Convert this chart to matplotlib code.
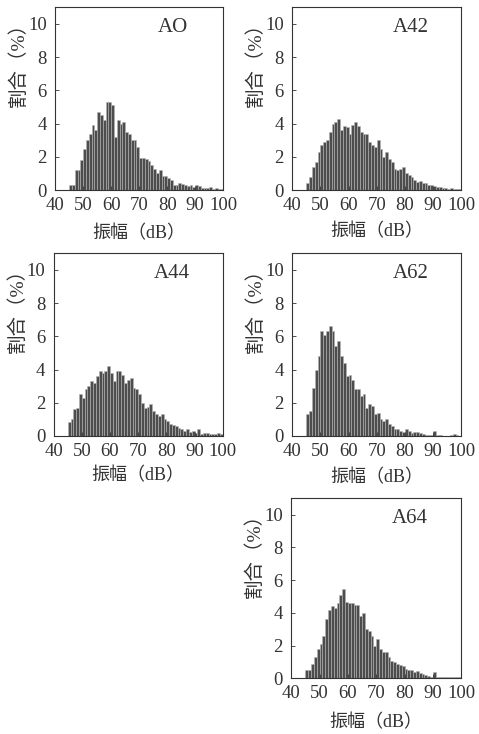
import numpy as np
import matplotlib
matplotlib.use("Agg")
import matplotlib.pyplot as plt

plt.rcParams['font.family'] = ['Liberation Serif', 'Noto Sans CJK SC']

# amplitude bins (dB), 1 dB wide, left edges
amp = np.arange(45, 100)

ao = [0.3, 0.3, 1.2, 1.2, 1.8, 2.5, 3.0, 3.4, 3.9, 3.6,
      4.7, 4.5, 4.2, 5.3, 5.3, 5.1, 3.2, 4.2, 4.0, 4.1,
      3.5, 3.4, 3.0, 3.0, 2.6, 1.95, 1.95, 1.9, 1.75, 1.5,
      1.25, 1.0, 1.2, 0.85, 0.85, 0.75, 0.6, 0.3, 0.3, 0.4,
      0.35, 0.3, 0.25, 0.3, 0.2, 0.3, 0.25, 0.1, 0.1, 0.15,
      0.2, 0.05, 0.1, 0.05, 0.05]
a42 = [0.45, 0.8, 1.4, 1.7, 2.3, 2.7, 2.9, 3.0, 3.5, 4.0,
       4.1, 4.25, 3.6, 3.85, 3.8, 3.4, 3.9, 4.1, 3.85, 3.5,
       3.4, 3.4, 2.9, 2.7, 2.6, 3.0, 2.5, 2.0, 2.3, 1.9,
       1.7, 1.3, 1.2, 1.3, 1.4, 1.0, 0.9, 0.8, 0.6, 0.5,
       0.55, 0.45, 0.4, 0.3, 0.3, 0.25, 0.2, 0.2, 0.15, 0.1,
       0.05, 0.1, 0.05, 0.05, 0.05]
a44 = [0.85, 1.0, 1.6, 1.7, 2.5, 2.3, 2.8, 3.0, 3.3, 3.2,
       3.6, 3.9, 3.8, 3.9, 4.2, 3.8, 3.3, 3.9, 3.9, 3.7,
       3.2, 3.4, 3.5, 2.9, 2.8, 2.5, 2.0, 1.7, 1.75, 1.9,
       1.5, 1.3, 1.2, 1.3, 1.0, 0.9, 0.7, 0.65, 0.6, 0.5,
       0.45, 0.3, 0.4, 0.25, 0.3, 0.2, 0.4, 0.15, 0.2, 0.2,
       0.15, 0.1, 0.1, 0.2, 0.15]
a62 = [1.3, 1.5, 2.9, 4.0, 4.8, 6.3, 6.1, 6.3, 6.6, 6.3,
       5.4, 5.7, 4.8, 4.4, 3.6, 3.7, 3.4, 2.8, 2.8, 2.4,
       2.5, 1.7, 1.95, 1.8, 1.3, 1.4, 1.0, 0.9, 1.0, 0.7,
       0.6, 0.4, 0.45, 0.3, 0.25, 0.4, 0.3, 0.2, 0.25, 0.25,
       0.2, 0.1, 0.05, 0.05, 0.05, 0.3, 0.05, 0.05, 0.02, 0.02,
       0.02, 0.05, 0.1, 0.05, 0.02]
a64 = [0.5, 0.5, 0.9, 1.3, 1.8, 2.1, 2.6, 3.6, 4.2, 4.4,
       4.3, 4.6, 5.1, 5.45, 4.65, 4.6, 4.6, 4.5, 4.5, 3.8,
       4.0, 3.0, 2.9, 2.6, 2.0, 2.4, 1.8, 1.6, 1.6, 1.3,
       1.05, 1.0, 0.85, 0.8, 0.75, 0.55, 0.5, 0.5, 0.35, 0.45,
       0.3, 0.25, 0.2, 0.15, 0.1, 0.35, 0.05, 0.05, 0.1, 0.1,
       0.05, 0.05, 0.05, 0.05, 0.05]

names = ["AO", "A42", "A44", "A62", "A64"]
series = [ao, a42, a44, a62, a64]
xticks = [40, 50, 60, 70, 80, 90, 100]
yticks = [0, 2, 4, 6, 8, 10]

# axes boxes in figure fraction [left, bottom, width, height]
boxes = [[0.115, 0.741, 0.351, 0.249],
         [0.610, 0.741, 0.353, 0.249],
         [0.112, 0.406, 0.353, 0.249],
         [0.610, 0.406, 0.353, 0.249],
         [0.608, 0.076, 0.355, 0.245]]
# x-label top offset below each axes (axes fraction)
xlab_y = [-0.19, -0.18, -0.17, -0.18, -0.20]

fig = plt.figure(figsize=(4.79, 7.34), dpi=100)
ink = "#333333"

for name, vals, box, ly in zip(names, series, boxes, xlab_y):
    ax = fig.add_axes(box)
    ax.bar(amp, vals, width=1.0, align="edge", color="#4d4d4d",
           edgecolor="#b5b5b5", linewidth=0.4)
    ax.set_xlim(40, 100)
    ax.set_ylim(0, 11)
    ax.set_xticks(xticks)
    ax.set_yticks(yticks)
    ax.tick_params(direction="in", length=3, width=0.6, labelsize=13.5,
                   colors=ink)
    ax.tick_params(axis="x", pad=5)
    ax.tick_params(axis="y", pad=6)
    for s in ax.spines.values():
        s.set_color(ink)
        s.set_linewidth(0.8)
    ax.set_ylabel("割合（%）", fontsize=14, color=ink)
    ax.yaxis.set_label_coords(-0.16, 0.71)
    ax.set_xlabel("振幅（dB）", fontsize=13, color=ink)
    ax.xaxis.set_label_coords(0.5, ly)
    ax.text(0.70, 9.8, name, transform=ax.get_yaxis_transform(),
            ha="center", va="center", fontsize=15, color=ink)

fig.savefig("out.png", dpi=100)
